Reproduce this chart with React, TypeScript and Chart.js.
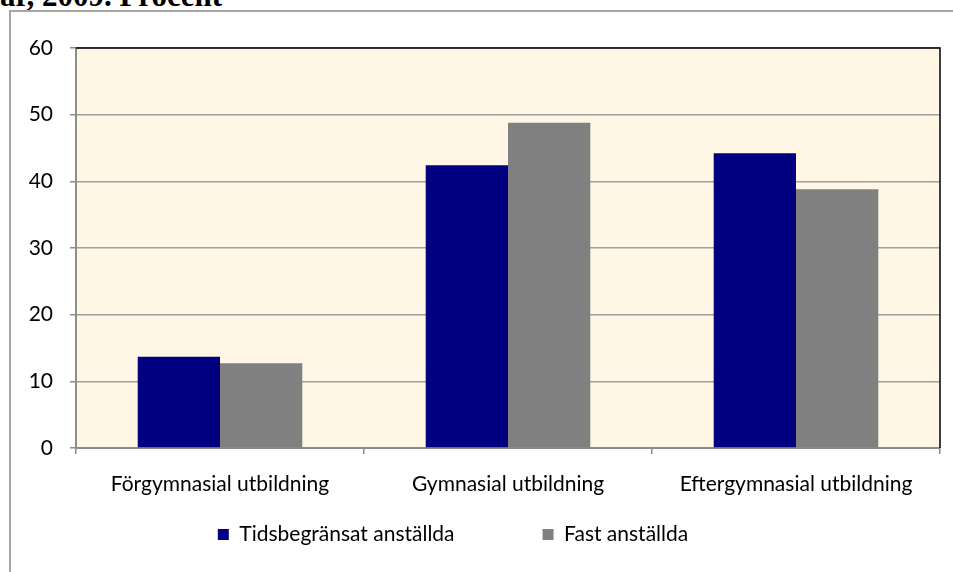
import React, { useEffect, useRef } from "react";
import { Chart, registerables } from "chart.js";

Chart.register(...registerables);

const categories = ["Förgymnasial utbildning", "Gymnasial utbildning", "Eftergymnasial utbildning"];
const seriesNames = ["Tidsbegränsat anställda", "Fast anställda"];
const tidsbegransat = [13.7, 42.4, 44.2];
const fast = [12.7, 48.8, 38.8];
const yTicks = [0, 10, 20, 30, 40, 50, 60];
const titleText = "år, 2009. Procent";

const FONT = "Lato";
const LEGEND_PAD = 88;

export default function App() {
  const ref = useRef<HTMLCanvasElement>(null);
  useEffect(() => {
    const canvas = ref.current!;
    const bgPlugin = {
      id: "bg",
      beforeDraw(chart: any) {
        const { ctx, chartArea: a } = chart;
        ctx.save();
        ctx.fillStyle = "#FFF6E5";
        ctx.fillRect(a.left, a.top, a.right - a.left, a.bottom - a.top);
        ctx.restore();
      },
      afterDatasetsDraw(chart: any) {
        const { ctx, chartArea: a } = chart;
        ctx.save();
        ctx.strokeStyle = "#000000";
        ctx.lineWidth = 1.5;
        ctx.beginPath();
        ctx.moveTo(a.left, a.top);
        ctx.lineTo(a.right, a.top);
        ctx.lineTo(a.right, a.bottom);
        ctx.stroke();
        ctx.restore();
      },
      afterLayout(chart: any) {
        const lg = chart.legend;
        if (lg) {
          lg.top = 535 - LEGEND_PAD - 11;
          lg.bottom = chart.height;
          lg.height = lg.bottom - lg.top;
          lg.left -= 17;
          lg.right -= 17;
        }
      },
    };
    const chart = new Chart(canvas, {
      type: "bar",
      data: {
        labels: categories,
        datasets: [
          { label: seriesNames[0], data: tidsbegransat, backgroundColor: "#000080", categoryPercentage: 0.5714, barPercentage: 1 },
          { label: seriesNames[1], data: fast, backgroundColor: "#808080", categoryPercentage: 0.5714, barPercentage: 1 },
        ],
      },
      options: {
        animation: false,
        responsive: false,
        layout: { padding: { left: 0, top: 48, right: 13, bottom: 14 } },
        plugins: {
          title: { display: false },
          tooltip: { enabled: false },
          legend: {
            position: "bottom",
            maxHeight: 50,
            labels: {
              boxWidth: 11,
              boxHeight: 11,
              padding: LEGEND_PAD,
              color: "#000",
              font: { family: FONT, size: 21 },
            },
          },
        },
        scales: {
          x: {
            offset: true,
            grid: {
              offset: true,
              drawOnChartArea: false,
              drawTicks: true,
              tickLength: 6,
              tickColor: "#8c8c8c",
              lineWidth: 1.5,
            },
            border: { color: "#8c8c8c", width: 2 },
            ticks: { color: "#000", font: { family: FONT, size: 21 }, padding: 18, maxRotation: 0 },
            afterFit(scale: any) {
              scale.height = 60;
            },
          },
          y: {
            min: 0,
            max: 60,
            afterBuildTicks(scale: any) {
              scale.ticks = yTicks.map((v) => ({ value: v }));
            },
            grid: {
              color: "#a0a0a0",
              lineWidth: 1.5,
              drawTicks: true,
              tickLength: 6,
              tickColor: "#8c8c8c",
            },
            border: { color: "#8c8c8c", width: 2 },
            ticks: { color: "#000", font: { family: FONT, size: 21 }, padding: 17 },
            afterFit(scale: any) {
              scale.width = 76;
            },
          },
        },
      },
      plugins: [bgPlugin],
    });
    return () => chart.destroy();
  }, []);
  return (
    <div style={{ position: "fixed", left: 0, top: 0, width: 953, height: 572, overflow: "hidden", background: "#fff" }}>
      <div
        style={{
          position: "absolute",
          left: 0,
          top: -20,
          fontFamily: "'Liberation Serif', serif",
          fontWeight: "bold",
          fontSize: 31,
          lineHeight: "31px",
          whiteSpace: "nowrap",
          color: "#000",
        }}
      >
        {titleText}
      </div>
      <div
        style={{
          position: "absolute",
          left: 9,
          top: 10,
          width: 1000,
          height: 1000,
          borderLeft: "2px solid #a6a6a6",
          borderTop: "2px solid #a6a6a6",
        }}
      />
      <canvas ref={ref} width={953} height={572} style={{ position: "absolute", left: 0, top: 0, width: 953, height: 572 }} />
    </div>
  );
}
